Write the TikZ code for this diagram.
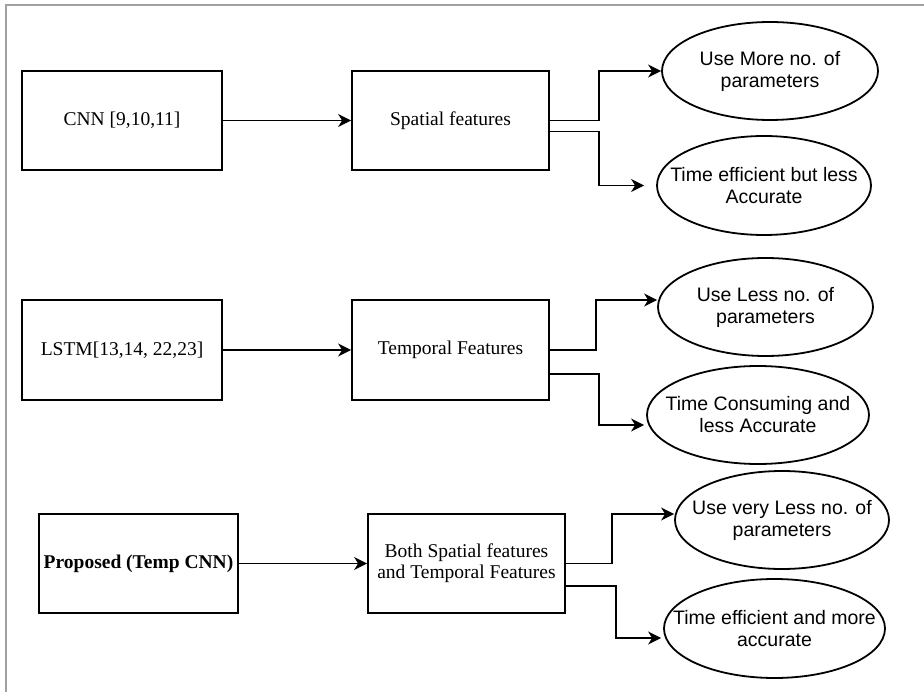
\documentclass[tikz,border=0pt]{standalone}
\usepackage{fontspec}
\setmainfont{Liberation Serif}
\setsansfont{Liberation Sans}
\definecolor{framegray}{RGB}{160, 160, 160}
\usetikzlibrary{arrows.meta,positioning,shapes}

\begin{document}
\begin{tikzpicture}[x=1pt, y=-1pt,
    box/.style={rectangle, draw, line width=1.8pt, inner sep=0pt, align=center,
        font=\fontsize{19.5}{21}\selectfont},
    oval/.style={ellipse, draw, line width=1.8pt, inner xsep=-30pt, inner ysep=0pt,
        align=center, font=\sffamily\fontsize{19.5}{22}\selectfont},
    arr/.style={-{Stealth[length=13pt, width=13pt, inset=4pt]}, line width=1.8pt}]
    \useasboundingbox (0,0) rectangle (924,692);
    \draw[framegray, line width=2pt] (924,5) -- (6,5) -- (6,692);

    \node[box, minimum width=200pt, minimum height=99pt] (cnn) at (122,120.5) {CNN [9,10,11]};
    \node[box, minimum width=197pt, minimum height=99pt] (sp) at (450.5,120.5) {Spatial features};
    \node[box, minimum width=200pt, minimum height=100pt] (lstm) at (122,350) {LSTM[13,14, 22,23]};
    \node[box, minimum width=197pt, minimum height=100pt] (tp) at (450.5,350) {Temporal Features};
    \node[box, minimum width=199pt, minimum height=99pt] (prop) at (138.5,563.5) {\textbf{Proposed (Temp CNN)}};
    \node[box, minimum width=197pt, minimum height=99pt] (bt) at (466.5,563.5) {Both Spatial features\\and Temporal Features};

    \node[oval, minimum width=216pt, minimum height=98pt] (e1) at (770,71) {Use More no. of\\parameters};
    \node[oval, minimum width=214pt, minimum height=99pt] (e2) at (764,185.5) {Time efficient but less\\Accurate};
    \node[oval, minimum width=215pt, minimum height=98pt] (e3) at (765.5,307) {Use Less no. of\\parameters};
    \node[oval, minimum width=222pt, minimum height=98pt] (e4) at (758,415) {Time Consuming and\\less Accurate};
    \node[oval, minimum width=214pt, minimum height=98pt] (e5) at (782,520) {Use very Less no. of\\parameters};
    \node[oval, minimum width=221pt, minimum height=99pt] (e6) at (774.5,628.5) {Time efficient and more\\accurate};

    \draw[arr] (cnn) -- (sp);
    \draw[arr] (lstm) -- (tp);
    \draw[arr] (prop) -- (bt);

    \draw[arr] (sp.east) -- ++(49,0) |- (e1.west);
    \draw[arr] ([yshift=-11pt]sp.east) -- ++(49,0) |- ([xshift=-12pt]e2.west);
    \draw[arr] (tp.east) -- ++(46,0) |- ([yshift=7pt]e3.west);
    \draw[arr] ([yshift=-24pt]tp.east) -- ++(49,0) |- ([xshift=-2pt, yshift=-10pt]e4.west);
    \draw[arr] (bt.east) -- ++(46,0) |- ([yshift=6pt]e5.west);
    \draw[arr] ([yshift=-22.5pt]bt.east) -- ++(50,0) |- ([xshift=-2pt, yshift=-9.5pt]e6.west);
\end{tikzpicture}
\end{document}
